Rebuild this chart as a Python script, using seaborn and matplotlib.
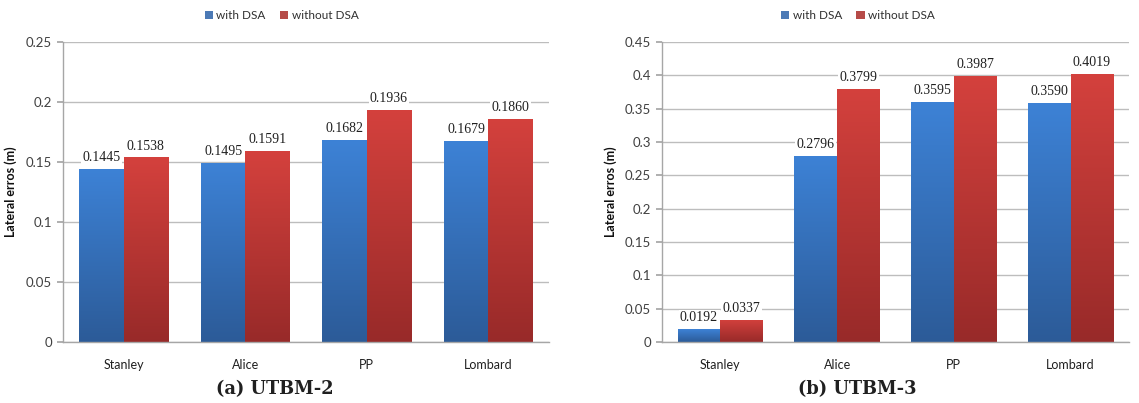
import numpy as np
import pandas as pd
import matplotlib
matplotlib.use("Agg")
import matplotlib.pyplot as plt
import seaborn as sns
from matplotlib.colors import LinearSegmentedColormap

# Lateral errors per controller, with and without DSA
controllers = ["Stanley", "Alice", "PP", "Lombard"]
series = ["with DSA", "without DSA"]
utbm2_with = [0.1445, 0.1495, 0.1682, 0.1679]
utbm2_without = [0.1538, 0.1591, 0.1936, 0.1860]
utbm3_with = [0.0192, 0.2796, 0.3595, 0.3590]
utbm3_without = [0.0337, 0.3799, 0.3987, 0.4019]
utbm2_ticks = [0, 0.05, 0.1, 0.15, 0.2, 0.25]
utbm3_ticks = [0, 0.05, 0.1, 0.15, 0.2, 0.25, 0.3, 0.35, 0.4, 0.45]
captions = ["(a) UTBM-2", "(b) UTBM-3"]

sns.set_theme(style="white")
plt.rcParams["font.family"] = ["Lato", "DejaVu Sans"]

palette = {"with DSA": "#3a78c8", "without DSA": "#c83a36"}
gradients = {
    "with DSA": LinearSegmentedColormap.from_list("blue", ["#2c5b98", "#3d82d6"]),
    "without DSA": LinearSegmentedColormap.from_list("red", ["#982a29", "#d4413d"]),
}


def make_frame(with_vals, without_vals):
    return pd.DataFrame({
        "controller": controllers * 2,
        "series": [series[0]] * 4 + [series[1]] * 4,
        "value": list(with_vals) + list(without_vals),
    })


fig = plt.figure(figsize=(11.39, 4.03), dpi=100)
ax1 = fig.add_axes([0.0553, 0.1514, 0.4267, 0.7444])
ax2 = fig.add_axes([0.5812, 0.1514, 0.4100, 0.7444])

panels = [
    (ax1, make_frame(utbm2_with, utbm2_without), utbm2_ticks, captions[0],
     0.45, 0.2414, -0.095),
    (ax2, make_frame(utbm3_with, utbm3_without), utbm3_ticks, captions[1],
     0.42, 0.7524, -0.096),
]

grad = np.linspace(0, 1, 256).reshape(-1, 1)

for ax, df, ticks, cap, leg_x, cap_x, ylab_x in panels:
    sns.barplot(data=df, x="controller", y="value", hue="series",
                palette=palette, width=0.73, gap=0, ax=ax,
                edgecolor="none", legend=True, zorder=2)
    ax.set_ylim(0, ticks[-1])
    ax.set_yticks(ticks)
    ax.set_yticklabels([f"{t:g}" for t in ticks])
    ax.set_xlim(-0.5, 3.5)

    # Vertical gradient fill clipped to each bar, with its value above it
    for container, name in zip(ax.containers, series):
        for bar, val in zip(container, df[df["series"] == name]["value"]):
            x0, w, h = bar.get_x(), bar.get_width(), bar.get_height()
            im = ax.imshow(grad, cmap=gradients[name], aspect="auto",
                           extent=[x0, x0 + w, 0, h], origin="lower",
                           zorder=2.5, interpolation="bicubic")
            im.set_clip_path(bar)
            ax.annotate(f"{val:.4f}", (x0 + w / 2, h), xytext=(0, 3.5),
                        textcoords="offset points", ha="center", va="bottom",
                        fontsize=10, family="Liberation Serif", color="#202020",
                        zorder=4,
                        bbox=dict(boxstyle="square,pad=0.1", fc="white",
                                  ec="none"))

    ax.grid(axis="y", color="#bdbdbd", linewidth=1, zorder=0)
    ax.set_axisbelow(True)
    for side in ["top", "right"]:
        ax.spines[side].set_visible(False)
    for side in ["left", "bottom"]:
        ax.spines[side].set_color("#a6a6a6")
        ax.spines[side].set_linewidth(1)
    ax.tick_params(axis="y", length=4, color="#a6a6a6", labelsize=9.5,
                   labelcolor="#404040", pad=4, left=True)
    ax.tick_params(axis="x", length=0, labelsize=9, labelcolor="#202020",
                   pad=12)
    ax.set_xlabel("")
    ax.set_ylabel("Lateral erros (m)", fontsize=9, fontweight="bold",
                  color="#101010")
    ax.yaxis.set_label_coords(ylab_x, 0.5)

    fig.text(cap_x, 0.035, cap, ha="center", va="center", fontsize=12.8,
             fontweight="bold", family="DejaVu Serif", color="#202020")

    ax.legend(loc="center", bbox_to_anchor=(leg_x, 1.087), ncol=2,
              frameon=False, fontsize=8.5, handlelength=0.7,
              handleheight=0.7, handletextpad=0.3, columnspacing=1.2,
              labelcolor="#303030")

fig.savefig("out.png", dpi=100, facecolor="white")
